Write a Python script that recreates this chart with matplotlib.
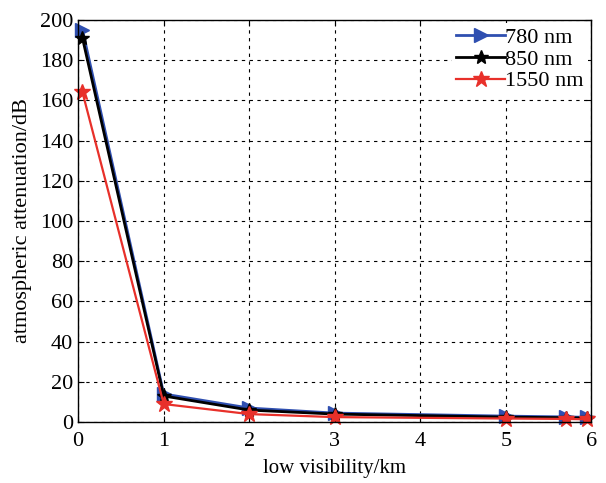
import matplotlib
matplotlib.use("Agg")
import matplotlib.pyplot as plt

plt.rcParams["font.family"] = ["Liberation Serif", "DejaVu Serif"]

visibility = [0.05, 1, 2, 3, 5, 5.7, 5.95]
atten_780 = [195, 14, 7, 4.5, 3.0, 2.6, 2.4]
atten_850 = [191, 13, 6, 4.0, 2.5, 2.2, 2.0]
atten_1550 = [164, 9, 4, 2.5, 1.8, 1.6, 1.4]

fig = plt.figure(figsize=(6.06, 4.83), dpi=100)
ax = fig.add_axes([0.129, 0.126, 0.847, 0.833])

ax.plot(visibility, atten_780, color="#2f4fb0", marker=">", markersize=10, linewidth=2.0, label="780 nm", clip_on=False)
ax.plot(visibility, atten_850, color="black", marker="*", markersize=10, linewidth=2.0, label="850 nm", clip_on=False)
ax.plot(visibility, atten_1550, color="#e8302a", marker="*", markersize=12, linewidth=1.6, label="1550 nm", clip_on=False)

ax.set_xlim(0, 6)
ax.set_ylim(0, 200)
ax.set_xticks(range(0, 7))
ax.set_yticks(range(0, 201, 20))
ax.grid(True, color="black", linestyle=(0, (3, 4)), linewidth=0.8)
ax.tick_params(direction="in", labelsize=16, length=4, top=True, right=True)
ax.tick_params(axis="x", pad=7)
ax.set_xlabel("low visibility/km", fontsize=15, labelpad=6)
ax.set_ylabel("atmospheric attenuation/dB", fontsize=16, labelpad=6)
for s in ax.spines.values():
    s.set_linewidth(1.0)

leg = ax.legend(loc="upper right", fontsize=16, frameon=True, fancybox=False,
                edgecolor="none", facecolor="white", framealpha=1.0,
                handlelength=2.2, handletextpad=0.0,
                borderaxespad=0.15, labelspacing=0.05, borderpad=0.2)

fig.savefig("out.png", dpi=100)
